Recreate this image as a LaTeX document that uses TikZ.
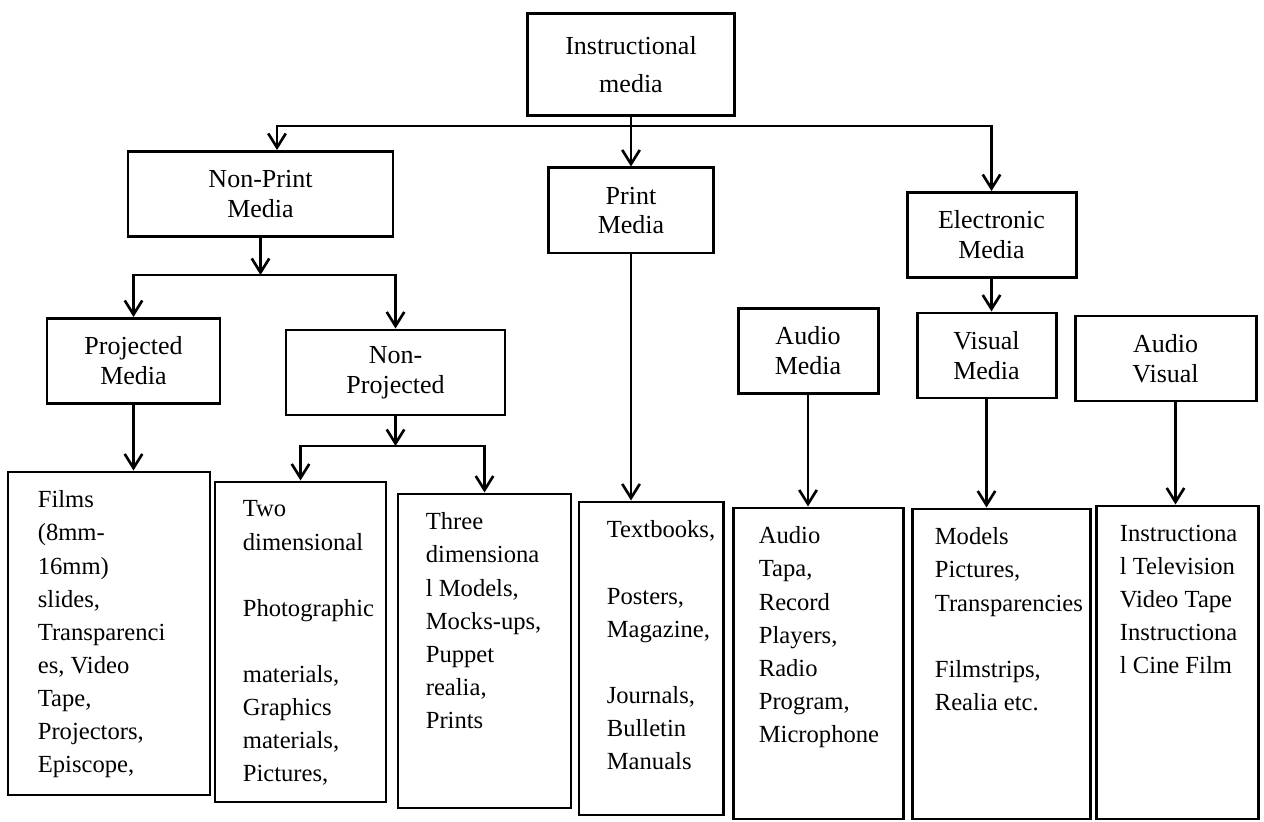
\documentclass[tikz,border=0pt]{standalone}
\usepackage{fontspec}
\setmainfont{Liberation Serif}
\usepackage{tikz}
\usetikzlibrary{arrows.meta, positioning}

\begin{document}
\begin{tikzpicture}[
    font=\fontsize{14.8}{17}\selectfont,
    >={Straight Barb[length=8pt, width=10pt]},
    head/.style={draw, line width=1.7pt, align=center, minimum width=4.14cm, minimum height=2.04cm, font=\fontsize{14.8}{21.6}\selectfont},
    group/.style={draw, line width=1.7pt, align=center, minimum height=1.7cm},
    leaf/.style={draw, line width=1.7pt},
    items/.style={anchor=north west, align=left, inner sep=0pt, font=\fontsize{14}{18.8}\selectfont},
    arrow/.style={->, line width=1.5pt}
]
\useasboundingbox (0,0) rectangle (25.28,16.42);

% Nodes
\node[head] (media) at (12.62, 15.12) {Instructional\\media};

\node[group, minimum width=5.3cm] (nonprint) at (5.21, 12.54) {Non-Print\\Media};
\node[group, minimum width=3.3cm] (print) at (12.62, 12.21) {Print\\Media};
\node[group, minimum width=3.38cm] (electronic) at (19.83, 11.72) {Electronic\\Media};

\node[group, minimum width=3.46cm] (projected) at (2.67, 9.2) {Projected\\Media};
\node[group, minimum width=4.38cm] (nonprojected) at (7.91, 8.97) {Non-\\Projected};
\node[group, minimum width=2.8cm] (audio) at (16.16, 9.4) {Audio\\Media};
\node[group, minimum width=2.78cm] (visual) at (19.73, 9.31) {Visual\\Media};
\node[group, minimum width=3.62cm] (audiovisual) at (23.31, 9.25) {Audio\\Visual};

\node[leaf, minimum width=4.04cm, minimum height=6.46cm] (films) at (2.18, 3.75) {};
\node[leaf, minimum width=3.42cm, minimum height=6.4cm] (twodim) at (6.01, 3.58) {};
\node[leaf, minimum width=3.46cm, minimum height=6.28cm] (threedim) at (9.69, 3.4) {};
\node[leaf, minimum width=2.88cm, minimum height=6.26cm] (printlist) at (13.02, 3.25) {};
\node[leaf, minimum width=3.4cm, minimum height=6.22cm] (audiolist) at (16.36, 3.15) {};
\node[leaf, minimum width=3.56cm, minimum height=6.2cm] (visuallist) at (20.02, 3.14) {};
\node[leaf, minimum width=3.24cm, minimum height=6.26cm] (avlist) at (23.54, 3.17) {};

\node[items, below right=0.4cm and 0.62cm of films.north west] (filmstext) {Films\\(8mm-\\16mm)\\slides,\\Transparenci\\es, Video\\Tape,\\Projectors,\\Episcope,};
\node[items, below right=0.4cm and 0.58cm of twodim.north west] (twodimtext) {Two\\dimensional\\[18.8pt]Photographic\\[18.8pt]materials,\\Graphics\\materials,\\Pictures,};
\node[items, below right=0.4cm and 0.58cm of threedim.north west] (threedimtext) {Three\\dimensiona\\l Models,\\Mocks-ups,\\Puppet\\realia,\\Prints};
\node[items, below right=0.4cm and 0.58cm of printlist.north west] (printtext) {Textbooks,\\[18.8pt]Posters,\\Magazine,\\[18.8pt]Journals,\\Bulletin\\Manuals};
\node[items, below right=0.4cm and 0.54cm of audiolist.north west] (audiotext) {Audio\\Tapa,\\Record\\Players,\\Radio\\Program,\\Microphone};
\node[items, below right=0.4cm and 0.48cm of visuallist.north west] (visualtext) {Models\\Pictures,\\Transparencies\\[18.8pt]Filmstrips,\\Realia etc.};
\node[items, below right=0.4cm and 0.5cm of avlist.north west] (avtext) {Instructiona\\l Television\\Video Tape\\Instructiona\\l Cine Film};

% Arrows
\coordinate (bus) at (12.62, 13.9);
\draw[arrow] (media) -- (print);
\draw[arrow] (bus) -| ([xshift=0.33cm]nonprint.north);
\draw[arrow] (bus) -| (electronic);

\coordinate (npbus) at (5.21, 10.92);
\draw[arrow] (nonprint) -- (npbus);
\draw[arrow] (npbus) -| (projected);
\draw[arrow] (npbus) -| (nonprojected);

\coordinate (nobus) at (7.91, 7.5);
\draw[arrow] (nonprojected) -- (nobus);
\draw[arrow] (nobus) -| (twodim);
\draw[arrow] (nobus) -| (threedim);

\draw[arrow] (projected) -- (projected |- films.north);
\draw[arrow] (print) -- (print |- printlist.north);
\draw[arrow] (electronic) -- (electronic |- visual.north);
\draw[arrow] (audio) -- (audio |- audiolist.north);
\draw[arrow] (visual) -- (visual |- visuallist.north);
\draw[arrow] ([xshift=0.2cm]audiovisual.south) -- ([xshift=0.2cm]audiovisual.south |- avlist.north);

\end{tikzpicture}
\end{document}
